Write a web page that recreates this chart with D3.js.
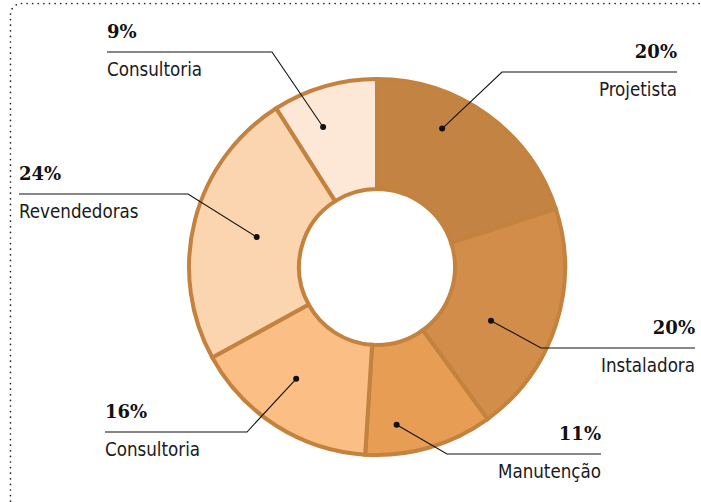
<!DOCTYPE html>
<html>
<head>
<meta charset="utf-8">
<script src="https://cdn.jsdelivr.net/npm/d3@7"></script>
<style>
  body { margin: 0; background: #fff; }
  .pct { font-family: "DejaVu Serif", serif; font-weight: bold; font-size: 18px; fill: #111; }
  .name { font-family: "DejaVu Sans Condensed", "DejaVu Sans", sans-serif; font-stretch: condensed; font-size: 18.6px; fill: #1a1a1a; }
</style>
</head>
<body>
<div class="chart"></div>
<script>
// chart data, clockwise from 12 o'clock
const categories = ['Projetista', 'Instaladora', 'Manutenção', 'Consultoria', 'Revendedoras', 'Consultoria'];
const values = [20, 20, 11, 16, 24, 9];
const colors = ['#c38342', '#d38d4a', '#e89d55', '#fbbe85', '#fbd4b0', '#fde7d6'];

// label placement: t = position inside slice, r = dot radius, tx = text x, ly = leader line y, ex = elbow x
const labelLayout = [
  { t: 0.35, r: 153, tx: 677, ly: 72, ex: 502, side: 'right' },
  { t: 0.60, r: 126, tx: 695, ly: 348, ex: 541, side: 'right' },
  { t: 0.73, r: 159, tx: 601, ly: 454, ex: 447, side: 'right' },
  { t: 0.56, r: 138, tx: 105, ly: 432, ex: 247, side: 'left' },
  { t: 0.495, r: 124, tx: 19, ly: 194, ex: 188, side: 'left' },
  { t: 0.35, r: 150, tx: 107, ly: 52, ex: 272, side: 'left' }
];

let width = 701, height = 502;
let cx = 377, cy = 267;
let outerR = 188, innerR = 78;

let svg = d3.select('.chart')
    .append('svg')
    .attr('width', width)
    .attr('height', height);

// dotted frame
svg.append('rect')
    .attr('x', 10.5)
    .attr('y', 3.5)
    .attr('width', 720)
    .attr('height', 530)
    .attr('rx', 11)
    .style('fill', 'none')
    .style('stroke', '#222')
    .style('stroke-width', 1.7)
    .style('stroke-linecap', 'round')
    .style('stroke-dasharray', '0 5.6');

let pie = d3.pie().sort(null).value(d => d);
let arcs = pie(values);
let arc = d3.arc().innerRadius(innerR).outerRadius(outerR);

let g = svg.append('g')
    .attr('transform', 'translate(' + cx + ',' + cy + ')');

g.selectAll('path')
    .data(arcs)
    .enter().append('path')
    .attr('d', arc)
    .style('fill', (d, i) => colors[i])
    .style('stroke', '#c4823f')
    .style('stroke-width', 4)
    .style('stroke-linejoin', 'miter');

// leaders and labels
arcs.forEach(function (d, i) {
    let L = labelLayout[i];
    let a = d.startAngle + L.t * (d.endAngle - d.startAngle);
    let dx = cx + L.r * Math.sin(a);
    let dy = cy - L.r * Math.cos(a);

    svg.append('path')
        .attr('d', 'M' + L.tx + ',' + L.ly + 'L' + L.ex + ',' + L.ly + 'L' + dx + ',' + dy)
        .style('fill', 'none')
        .style('stroke', '#111')
        .style('stroke-width', 1.1);

    svg.append('circle')
        .attr('cx', dx)
        .attr('cy', dy)
        .attr('r', 3)
        .style('fill', '#111');

    let anchor = L.side === 'right' ? 'end' : 'start';
    svg.append('text')
        .attr('class', 'pct')
        .attr('x', L.tx)
        .attr('y', L.ly - 14)
        .attr('text-anchor', anchor)
        .text(values[i] + '%');

    svg.append('text')
        .attr('class', 'name')
        .attr('x', L.tx)
        .attr('y', L.ly + 24)
        .attr('text-anchor', anchor)
        .text(categories[i]);
});
</script>
</body>
</html>
